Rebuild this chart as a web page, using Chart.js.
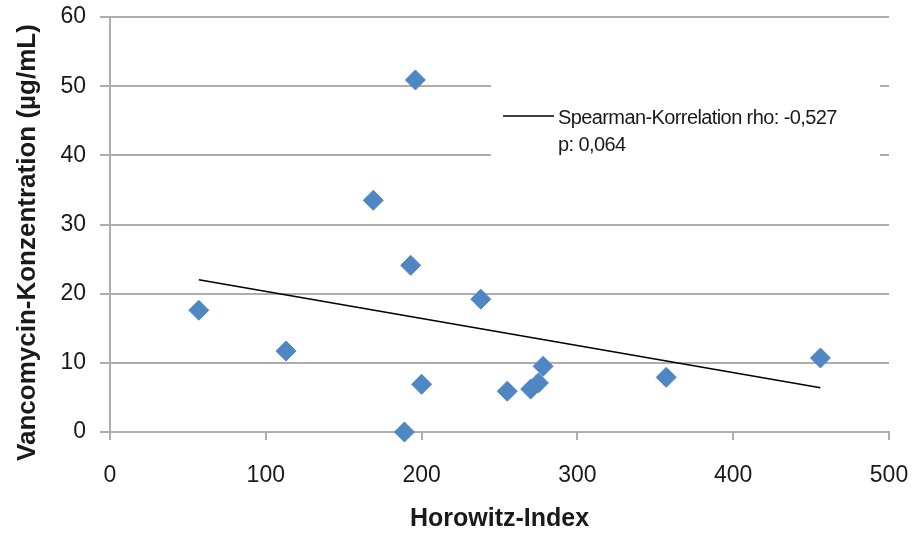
<!DOCTYPE html>
<html>
<head>
<meta charset="utf-8">
<script src="https://cdn.jsdelivr.net/npm/chart.js@4/dist/chart.umd.min.js"></script>
<style>
  html, body { margin: 0; padding: 0; background: #ffffff; }
  #wrap { width: 915px; height: 539px; position: relative; }
</style>
</head>
<body>
<div id="wrap"><canvas id="vancoChart"></canvas></div>
<script>
// Horowitz-Index vs. Vancomycin concentration
const horowitz = [57, 113, 169, 189, 193, 196, 200, 238, 255, 270, 275, 278, 357, 456];
const vancomycin = [17.6, 11.7, 33.5, 0, 24.1, 50.9, 6.9, 19.2, 5.9, 6.2, 7.1, 9.5, 7.9, 10.7];

// Trend line end points
const trendX = [57, 456];
const trendY = [22.0, 6.4];

const legendLines = ['Spearman-Korrelation rho: -0,527', 'p: 0,064'];

const xTicks = [0, 100, 200, 300, 400, 500];
const yTicks = [0, 10, 20, 30, 40, 50, 60];

const fontFamily = '"Liberation Sans", Arial, sans-serif';
const gridColor = '#ADADAD';

// Legend box drawn inside the plot area (like the Excel chart)
const legendBox = {
    id: 'legendBox',
    beforeDatasetsDraw(chart) {
        const ctx = chart.ctx;
        ctx.save();
        ctx.fillStyle = '#ffffff';
        ctx.fillRect(491, 78, 389, 86);

        ctx.strokeStyle = '#000000';
        ctx.lineWidth = 1.5;
        ctx.beginPath();
        ctx.moveTo(503, 116);
        ctx.lineTo(554, 116);
        ctx.stroke();

        ctx.fillStyle = '#1a1a1a';
        ctx.font = '20px ' + fontFamily;
        ctx.textBaseline = 'middle';
        ctx.textAlign = 'left';
        if ('letterSpacing' in ctx) ctx.letterSpacing = '-0.6px';
        ctx.fillText(legendLines[0], 558, 118);
        ctx.fillText(legendLines[1], 558, 145);
        ctx.restore();
    }
};

const ctx = document.getElementById('vancoChart').getContext('2d');

new Chart(ctx, {
    type: 'scatter',
    data: {
        datasets: [{
            label: 'Vancomycin',
            data: horowitz.map((x, i) => ({ x: x, y: vancomycin[i] })),
            backgroundColor: '#4F86C4',
            borderColor: '#4F86C4',
            pointStyle: 'rectRot',
            pointRadius: 10,
            pointHoverRadius: 10,
            clip: false,
            order: 1
        }, {
            label: 'Trend',
            type: 'line',
            data: trendX.map((x, i) => ({ x: x, y: trendY[i] })),
            borderColor: '#000000',
            borderWidth: 1.5,
            pointRadius: 0,
            fill: false,
            order: 2
        }]
    },
    options: {
        responsive: true,
        maintainAspectRatio: false,
        animation: false,
        layout: {
            padding: { left: 8, right: 26, top: 17, bottom: 1 }
        },
        plugins: {
            legend: { display: false },
            tooltip: { enabled: false }
        },
        scales: {
            x: {
                type: 'linear',
                min: 0,
                max: 500,
                afterBuildTicks: (scale) => {
                    scale.ticks = xTicks.map(v => ({ value: v }));
                },
                afterFit: (scale) => {
                    scale.height = 106;
                    scale.paddingLeft = 0;
                    scale.paddingRight = 0;
                },
                border: { color: gridColor, width: 2 },
                grid: {
                    drawOnChartArea: false,
                    color: gridColor,
                    lineWidth: 2,
                    tickLength: 8
                },
                ticks: {
                    color: '#1a1a1a',
                    font: { family: fontFamily, size: 23 },
                    padding: 22,
                    maxRotation: 0
                },
                title: {
                    display: true,
                    text: 'Horowitz-Index',
                    color: '#1a1a1a',
                    font: { family: fontFamily, size: 25, weight: 'bold' }
                }
            },
            y: {
                type: 'linear',
                min: 0,
                max: 60,
                afterBuildTicks: (scale) => {
                    scale.ticks = yTicks.map(v => ({ value: v }));
                },
                afterFit: (scale) => {
                    scale.width = 102;
                    scale.paddingTop = 0;
                    scale.paddingBottom = 0;
                },
                border: { color: gridColor, width: 2 },
                grid: {
                    color: gridColor,
                    lineWidth: 2,
                    tickLength: 10
                },
                ticks: {
                    color: '#1a1a1a',
                    font: { family: fontFamily, size: 23 },
                    padding: 14
                },
                title: {
                    display: true,
                    text: 'Vancomycin-Konzentration (µg/mL)     ',
                    color: '#1a1a1a',
                    font: { family: fontFamily, size: 26, weight: 'bold' }
                }
            }
        }
    },
    plugins: [legendBox]
});
</script>
</body>
</html>
